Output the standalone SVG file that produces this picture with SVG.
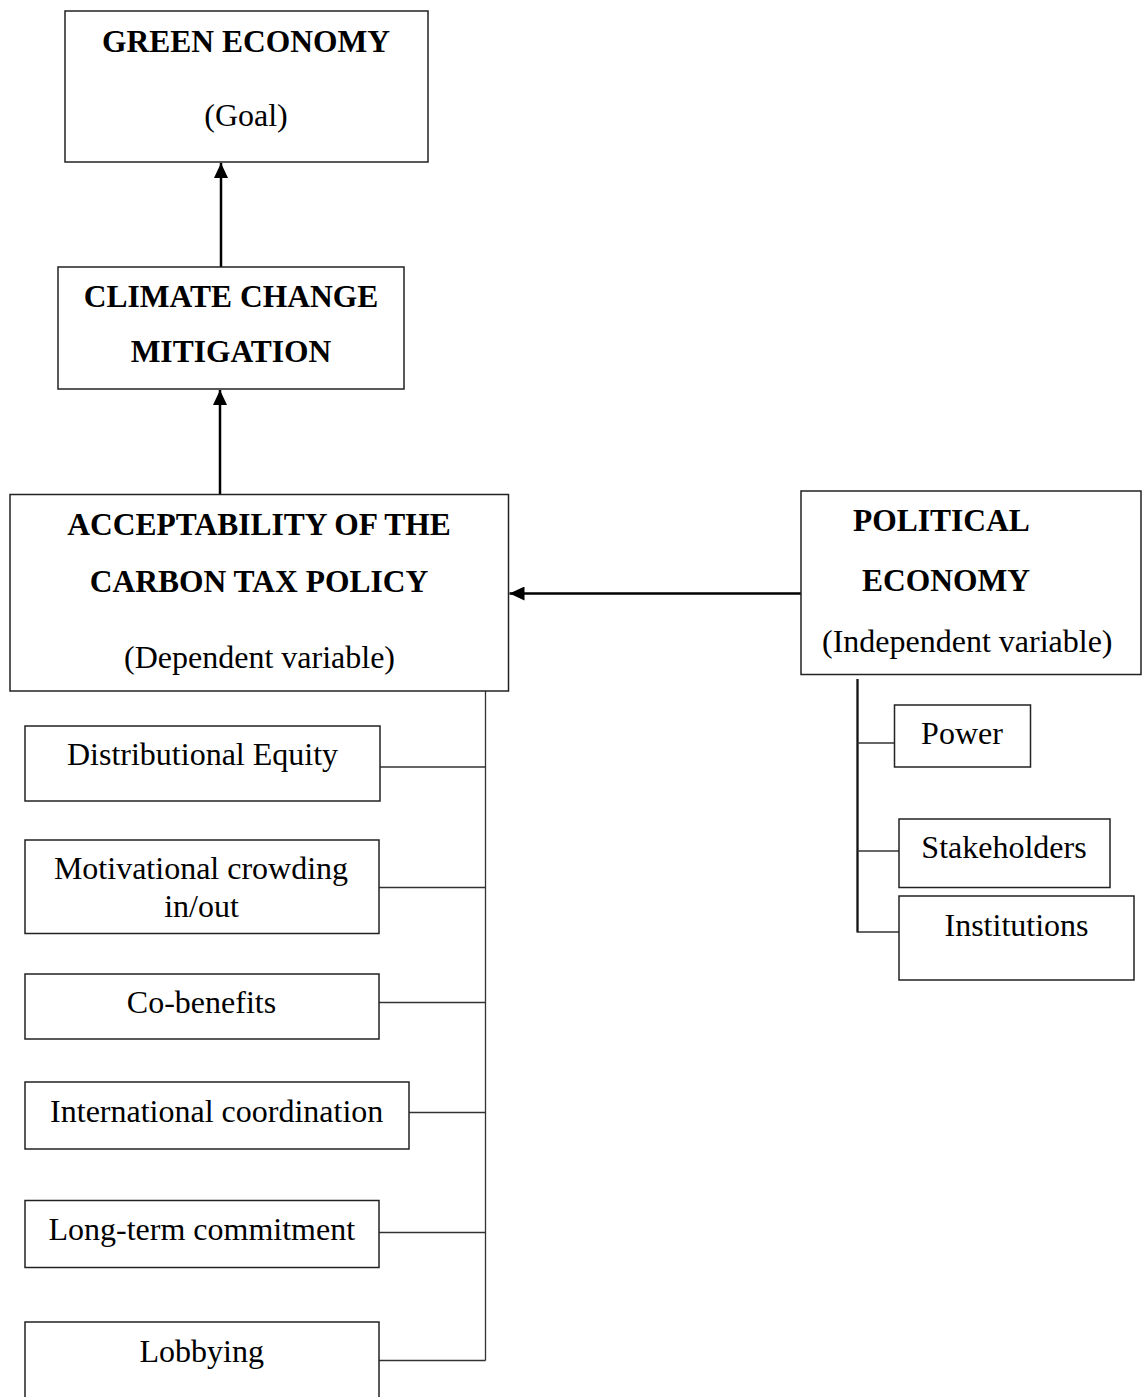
<svg xmlns="http://www.w3.org/2000/svg" width="1142" height="1397" viewBox="0 0 1142 1397">
<defs>
<style>
.box{fill:#fff;stroke:#222;stroke-width:1.5}
.b{font-family:"Liberation Serif","Times New Roman",serif;font-weight:bold;font-size:31.5px;fill:#000}
.r{font-family:"Liberation Serif","Times New Roman",serif;font-size:32px;fill:#000}
.c{text-anchor:middle}
.arr{stroke:#000;stroke-width:2.5;fill:none}
.thin{stroke:#333;stroke-width:1.3;fill:none}
.thick{stroke:#111;stroke-width:2.3;fill:none}
</style>
<marker id="ah" viewBox="0 0 15 14" refX="15" refY="7" markerWidth="15" markerHeight="14" markerUnits="userSpaceOnUse" orient="auto">
<path d="M0,0 L15,7 L0,14 Z" fill="#000"/>
</marker>
</defs>
<rect width="1142" height="1397" fill="#fff"/>
<g id="connectors">
<line class="arr" x1="221" y1="267" x2="221" y2="163" marker-end="url(#ah)"/>
<line class="arr" x1="220" y1="494" x2="220" y2="390" marker-end="url(#ah)"/>
<line class="arr" x1="801" y1="593.5" x2="509.5" y2="593.5" marker-end="url(#ah)"/>
<line class="thin" x1="485.5" y1="691" x2="485.5" y2="1360.5"/>
<line class="thin" x1="380" y1="767" x2="485.5" y2="767"/>
<line class="thin" x1="379" y1="887.5" x2="485.5" y2="887.5"/>
<line class="thin" x1="379" y1="1002.5" x2="485.5" y2="1002.5"/>
<line class="thin" x1="409" y1="1112.5" x2="485.5" y2="1112.5"/>
<line class="thin" x1="379" y1="1232.5" x2="485.5" y2="1232.5"/>
<line class="thin" x1="379" y1="1360.5" x2="485.5" y2="1360.5"/>
<line class="thick" x1="857.5" y1="679" x2="857.5" y2="932.5"/>
<line class="thin" x1="857.5" y1="743" x2="896" y2="743"/>
<line class="thin" x1="857.5" y1="851" x2="899" y2="851"/>
<line class="thin" x1="857.5" y1="932" x2="899" y2="932"/>
</g>
<g id="green-economy">
<rect class="box" x="65" y="11" width="363" height="151"/>
<text class="b c" x="246" y="52">GREEN ECONOMY</text>
<text class="r c" x="246" y="126">(Goal)</text>
</g>
<g id="climate-change">
<rect class="box" x="58" y="267" width="346" height="122"/>
<text class="b c" x="231" y="307">CLIMATE CHANGE</text>
<text class="b c" x="231" y="362">MITIGATION</text>
</g>
<g id="acceptability">
<rect class="box" x="10" y="494.5" width="498.5" height="196.5"/>
<text class="b c" x="259" y="535">ACCEPTABILITY OF THE</text>
<text class="b c" x="259" y="591.5">CARBON TAX POLICY</text>
<text class="r c" x="259.5" y="667.5">(Dependent variable)</text>
</g>
<g id="political-economy">
<rect class="box" x="801" y="491" width="340" height="183.5"/>
<text class="b" x="853" y="530.5">POLITICAL</text>
<text class="b" x="862" y="590.5">ECONOMY</text>
<text class="r" x="822" y="651.5">(Independent variable)</text>
</g>
<g id="power">
<rect class="box" x="894.5" y="705" width="136" height="62"/>
<text class="r c" x="962" y="744">Power</text>
</g>
<g id="stakeholders">
<rect class="box" x="899" y="819" width="211" height="68.5"/>
<text class="r c" x="1004" y="858">Stakeholders</text>
</g>
<g id="institutions">
<rect class="box" x="899" y="896" width="235" height="84"/>
<text class="r c" x="1016.5" y="936">Institutions</text>
</g>
<g id="distributional-equity">
<rect class="box" x="25" y="726" width="355" height="75"/>
<text class="r c" x="202.5" y="765">Distributional Equity</text>
</g>
<g id="motivational-crowding">
<rect class="box" x="25" y="840" width="354" height="93.5"/>
<text class="r c" x="201" y="878.5">Motivational crowding</text>
<text class="r c" x="201.5" y="917">in/out</text>
</g>
<g id="co-benefits">
<rect class="box" x="25" y="974" width="354" height="65"/>
<text class="r c" x="201.5" y="1013">Co-benefits</text>
</g>
<g id="international-coordination">
<rect class="box" x="25" y="1082" width="384" height="67"/>
<text class="r c" x="216.7" y="1122">International coordination</text>
</g>
<g id="long-term-commitment">
<rect class="box" x="25" y="1200.5" width="354" height="67"/>
<text class="r c" x="201.8" y="1240">Long-term commitment</text>
</g>
<g id="lobbying">
<rect class="box" x="25" y="1322" width="354" height="90"/>
<text class="r c" x="201.7" y="1361.5">Lobbying</text>
</g>
</svg>
